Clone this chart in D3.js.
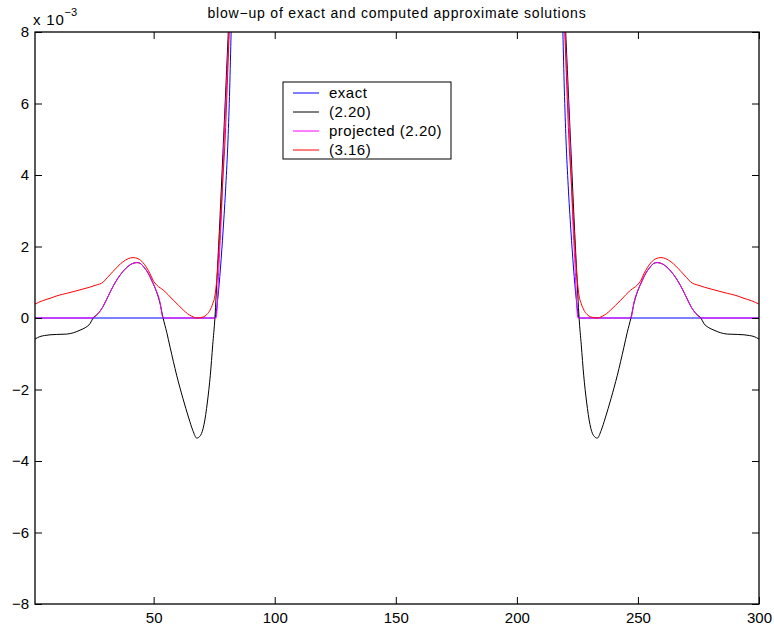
<!DOCTYPE html>
<html>
<head>
  <meta charset="utf-8">
  <script src="https://cdnjs.cloudflare.com/ajax/libs/d3/7.8.5/d3.min.js"></script>
  <style>
    body { margin: 0; padding: 0; background: #fff; }
    text { font-family: "Liberation Sans", Arial, Helvetica, sans-serif; fill: #000; }
    .line { fill: none; stroke-width: 1px; }
  </style>
</head>
<body>
<svg width="774" height="631"></svg>
<script>
  // values are in units of 1e-3
  let title = "blow\u2212up of exact and computed approximate solutions";
  let xTicks = [50, 100, 150, 200, 250, 300];
  let yTicks = [-8, -6, -4, -2, 0, 2, 4, 6, 8];
  let legendLabels = ["exact", "(2.20)", "projected (2.20)", "(3.16)"];
  let colors = ["#0000ff", "#000000", "#ff00ff", "#ff0000"];

  let exact = [
    [1, 0], [75.3, 0], [76.5, 0.55], [77.6, 1.4], [78.7, 2.46], [79.8, 3.7], [80.7, 4.98], [81.4, 6.4], [82, 8], [83, 10.5], [85, 14],
    [216, 14], [218, 10.5], [219, 8], [219.6, 6.4], [220.3, 4.98], [221.2, 3.7], [222.3, 2.46], [223.4, 1.4], [224.5, 0.55], [225.7, 0], [300, 0]
  ];

  let eq220 = [
    [1, -0.59], [3, -0.52], [5, -0.49], [7.2, -0.47], [10, -0.46], [14.1, -0.45], [17, -0.41], [19.6, -0.34], [22, -0.26], [23.7, -0.16],
    [25, 0], [27, 0.12], [29.1, 0.32], [31, 0.58], [33.2, 0.88], [35.3, 1.12], [37.3, 1.3], [39.5, 1.45], [41.5, 1.53], [43.1, 1.55],
    [44.4, 1.53], [46, 1.42], [47.7, 1.26], [49.2, 1.05], [50.6, 0.84], [52.6, 0.42], [53.9, 0], [55.4, -0.4], [56.8, -0.82],
    [59.5, -1.6], [62.1, -2.25], [64.5, -2.8], [66.2, -3.15], [67.8, -3.36], [69.4, -3.28], [70.8, -2.98], [72.2, -2.35], [73.4, -1.6],
    [74.4, -0.75], [75.3, 0], [76.3, 1.3], [77.4, 2.8], [78.6, 4.6], [79.6, 6.1], [80.7, 7.8], [82.4, 10.5], [85, 14],
    [216, 14], [218.6, 10.5], [220.3, 7.8], [221.4, 6.1], [222.4, 4.6], [223.6, 2.8], [224.7, 1.3], [225.7, 0], [226.6, -0.75],
    [227.6, -1.6], [228.8, -2.35], [230.2, -2.98], [231.6, -3.28], [233.2, -3.36], [234.8, -3.15], [236.5, -2.8], [238.9, -2.25],
    [241.5, -1.6], [244.2, -0.82], [245.6, -0.4], [247.1, 0], [248.4, 0.42], [250.4, 0.84], [251.8, 1.05], [253.3, 1.26], [255, 1.42],
    [256.6, 1.53], [257.9, 1.55], [259.5, 1.53], [261.5, 1.45], [263.7, 1.3], [265.7, 1.12], [267.8, 0.88], [270, 0.58], [271.9, 0.32],
    [274, 0.12], [276, 0], [277.3, -0.16], [279, -0.26], [281.4, -0.34], [284, -0.41], [286.9, -0.45], [291, -0.46], [293.8, -0.47],
    [296, -0.49], [298, -0.52], [300, -0.59]
  ];

  let projected220 = [
    [1, 0], [25, 0], [27, 0.12], [29.1, 0.32], [31, 0.58], [33.2, 0.88], [35.3, 1.12], [37.3, 1.3], [39.5, 1.45], [41.5, 1.53],
    [43.1, 1.55], [44.4, 1.53], [46, 1.42], [47.7, 1.26], [49.2, 1.05], [50.6, 0.84], [52.6, 0.45], [53.9, 0], [75.8, 0], [77, 1.5],
    [78, 2.9], [79.1, 4.98], [80.2, 6.6], [81.1, 8], [82.5, 10.5], [85, 14],
    [216, 14], [218.5, 10.5], [219.9, 8], [220.8, 6.6], [221.9, 4.98], [223, 2.9], [224, 1.5], [225.2, 0], [247.1, 0], [248.4, 0.45],
    [250.4, 0.84], [251.8, 1.05], [253.3, 1.26], [255, 1.42], [256.6, 1.53], [257.9, 1.55], [259.5, 1.53], [261.5, 1.45], [263.7, 1.3],
    [265.7, 1.12], [267.8, 0.88], [270, 0.58], [271.9, 0.32], [274, 0.12], [276, 0], [300, 0]
  ];

  let eq316 = [
    [1, 0.39], [4, 0.48], [7.2, 0.55], [10.5, 0.63], [14.1, 0.69], [17.5, 0.75], [20.8, 0.81], [23.5, 0.86], [26.2, 0.92], [29.1, 1.0],
    [31, 1.14], [33.2, 1.3], [35.3, 1.45], [37.3, 1.57], [39.5, 1.66], [41.5, 1.69], [43.5, 1.66], [45.6, 1.55], [47, 1.42], [48.5, 1.24],
    [49.7, 1.06], [51.3, 0.92], [54, 0.78], [56, 0.65], [58.1, 0.5], [60.2, 0.36], [62.3, 0.22], [64, 0.12], [65.7, 0.05], [67.9, 0],
    [70.5, 0.03], [72, 0.1], [73.3, 0.22], [74.4, 0.4], [75.3, 0.62], [76.6, 1.53], [77.4, 2.46], [78.5, 3.8], [79.5, 4.98], [80.4, 6.5],
    [81.2, 8], [82.6, 10.5], [85, 14],
    [216, 14], [218.4, 10.5], [219.8, 8], [220.6, 6.5], [221.5, 4.98], [222.5, 3.8], [223.6, 2.46], [224.4, 1.53], [225.7, 0.62],
    [226.6, 0.4], [227.7, 0.22], [229, 0.1], [230.5, 0.03], [233.1, 0], [235.3, 0.05], [237, 0.12], [238.7, 0.22], [240.8, 0.36],
    [242.9, 0.5], [245, 0.65], [247, 0.78], [249.7, 0.92], [251.3, 1.06], [252.5, 1.24], [254, 1.42], [255.4, 1.55], [257.5, 1.66],
    [259.5, 1.69], [261.5, 1.66], [263.7, 1.57], [265.7, 1.45], [267.8, 1.3], [270, 1.14], [271.9, 1.0], [274.8, 0.92], [277.5, 0.86],
    [280.2, 0.81], [283.5, 0.75], [286.9, 0.69], [290.5, 0.63], [293.8, 0.55], [297, 0.48], [300, 0.39]
  ];

  let series = [exact, eq220, projected220, eq316];

  //chart margins
  let svg = d3.select("svg"),
    margin = {top: 32, right: 15, bottom: 27, left: 35},
    width = +svg.attr("width") - margin.left - margin.right,
    height = +svg.attr("height") - margin.top - margin.bottom,
    g = svg.append("g").attr("transform", "translate(" + margin.left + "," + margin.top + ")");

  let x = d3.scaleLinear().domain([1, 300]).range([0, width]);
  let y = d3.scaleLinear().domain([-8, 8]).range([height, 0]);

  let line = d3.line()
    .curve(d3.curveMonotoneX)
    .x(function(d) { return x(d[0]); })
    .y(function(d) { return y(d[1]); });

  g.append("clipPath").attr("id", "clip")
    .append("rect").attr("width", width).attr("height", height);

  //curves
  g.append("g").attr("clip-path", "url(#clip)")
    .selectAll(".line")
    .data(series)
    .enter()
    .append("path")
    .attr("class", "line")
    .attr("d", line)
    .style("stroke", function(d, i) { return colors[i]; });

  //axes, ticks inside the box
  let fmt = function(d) { return d < 0 ? "\u2212" + Math.abs(d) : String(d); };
  let tickLen = 7;

  let xAxis = g.append("g")
    .attr("transform", "translate(0," + height + ")")
    .call(d3.axisBottom(x).tickValues(xTicks).tickSizeInner(-tickLen).tickSizeOuter(0).tickPadding(8).tickFormat(fmt));
  let xAxisTop = g.append("g")
    .call(d3.axisTop(x).tickValues(xTicks).tickSizeInner(-tickLen).tickSizeOuter(0).tickFormat(""));
  let yAxis = g.append("g")
    .call(d3.axisLeft(y).tickValues(yTicks).tickSizeInner(-tickLen).tickSizeOuter(0).tickPadding(6).tickFormat(fmt));
  let yAxisRight = g.append("g")
    .attr("transform", "translate(" + width + ",0)")
    .call(d3.axisRight(y).tickValues(yTicks).tickSizeInner(-tickLen).tickSizeOuter(0).tickFormat(""));

  [xAxis, xAxisTop, yAxis, yAxisRight].forEach(function(a) {
    a.select(".domain").remove();
    a.selectAll("line").attr("stroke", "#000");
    a.selectAll("text").style("font-size", "15px").attr("fill", "#000");
  });

  g.append("rect")
    .attr("width", width)
    .attr("height", height)
    .attr("fill", "none")
    .attr("stroke", "#000")
    .attr("stroke-width", 1.3);

  //exponent label
  let expo = svg.append("text")
    .attr("x", 33)
    .attr("y", 25)
    .style("font-size", "15px")
    .style("letter-spacing", "0.8px");
  expo.append("tspan").text("x 10");
  expo.append("tspan").attr("dy", -9).style("font-size", "11px").style("letter-spacing", "0px").text("\u22123");

  //title
  svg.append("text")
    .attr("x", margin.left + width / 2)
    .attr("y", 18)
    .attr("text-anchor", "middle")
    .style("font-size", "14px")
    .style("letter-spacing", "0.8px")
    .text(title);

  //legend
  let legend = svg.append("g").attr("transform", "translate(283,82)");
  legend.append("rect")
    .attr("width", 168)
    .attr("height", 77)
    .attr("fill", "#fff")
    .attr("stroke", "#000");
  let item = legend.selectAll(".item")
    .data(legendLabels)
    .enter()
    .append("g")
    .attr("transform", function(d, i) { return "translate(0," + (11 + i * 19) + ")"; });
  item.append("line")
    .attr("x1", 10).attr("x2", 36)
    .attr("stroke", function(d, i) { return colors[i]; });
  item.append("text")
    .attr("x", 46)
    .attr("dy", "0.35em")
    .style("font-size", "15px")
    .style("letter-spacing", "0.5px")
    .text(function(d) { return d; });
</script>
</body>
</html>
